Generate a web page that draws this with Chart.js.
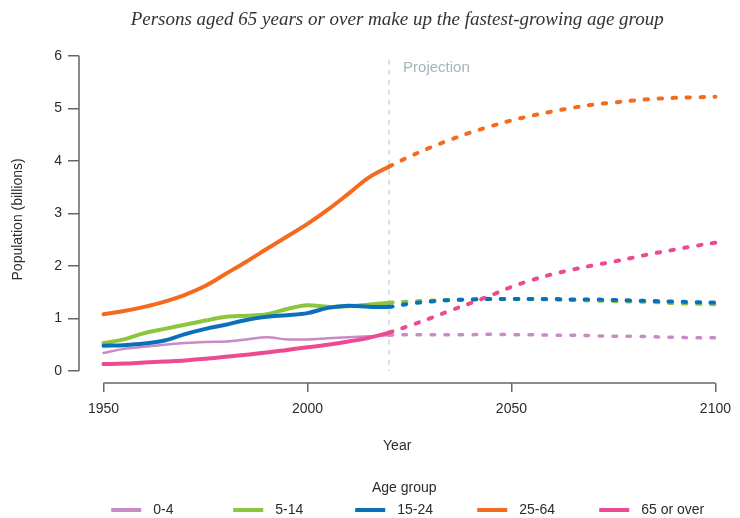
<!DOCTYPE html>
<html>
<head>
<meta charset="utf-8">
<script src="https://cdn.jsdelivr.net/npm/chart.js@4/dist/chart.umd.min.js"></script>
<style>
  html, body { margin: 0; padding: 0; background: #fff; }
  #wrap { width: 740px; height: 518px; }
</style>
</head>
<body>
<div id="wrap"><canvas id="chart"></canvas></div>
<script>
// --- Data (billions), 5-year steps; values from 2020 on are projections ---
const years = [1950, 1955, 1960, 1965, 1970, 1975, 1980, 1985, 1990, 1995, 2000, 2005, 2010, 2015, 2020,
               2025, 2030, 2035, 2040, 2045, 2050, 2055, 2060, 2065, 2070, 2075, 2080, 2085, 2090, 2095, 2100];

const age0to4   = [0.34, 0.42, 0.46, 0.50, 0.53, 0.55, 0.56, 0.60, 0.64, 0.60, 0.60, 0.62, 0.64, 0.66, 0.68,
                   0.69, 0.69, 0.69, 0.69, 0.70, 0.69, 0.69, 0.68, 0.68, 0.67, 0.66, 0.66, 0.65, 0.64, 0.63, 0.63];
const age5to14  = [0.53, 0.60, 0.72, 0.80, 0.88, 0.96, 1.03, 1.05, 1.08, 1.18, 1.25, 1.22, 1.23, 1.26, 1.30,
                   1.32, 1.34, 1.35, 1.36, 1.37, 1.37, 1.37, 1.36, 1.35, 1.34, 1.33, 1.32, 1.31, 1.29, 1.28, 1.27];
const age15to24 = [0.48, 0.49, 0.52, 0.58, 0.70, 0.80, 0.88, 0.97, 1.03, 1.06, 1.10, 1.20, 1.24, 1.22, 1.22,
                   1.28, 1.32, 1.35, 1.36, 1.37, 1.37, 1.37, 1.37, 1.36, 1.36, 1.35, 1.34, 1.33, 1.32, 1.31, 1.30];
const age25to64 = [1.08, 1.14, 1.22, 1.32, 1.45, 1.62, 1.85, 2.08, 2.32, 2.56, 2.80, 3.07, 3.37, 3.68, 3.89,
                   4.08, 4.25, 4.40, 4.54, 4.66, 4.77, 4.86, 4.94, 5.01, 5.07, 5.11, 5.15, 5.18, 5.20, 5.21, 5.22];
const age65plus = [0.13, 0.14, 0.16, 0.18, 0.20, 0.23, 0.27, 0.31, 0.35, 0.40, 0.45, 0.50, 0.56, 0.63, 0.73,
                   0.86, 1.00, 1.15, 1.29, 1.44, 1.60, 1.73, 1.84, 1.93, 2.01, 2.08, 2.16, 2.24, 2.31, 2.38, 2.44];

const groupLabels = ["0-4", "5-14", "15-24", "25-64", "65 or over"];
const groupValues = [age0to4, age5to14, age15to24, age25to64, age65plus];

const xTicks = [1950, 2000, 2050, 2100];
const yTicks = [0, 1, 2, 3, 4, 5, 6];
const projectionStart = 2020;

const chartTitle = "Persons aged 65 years or over make up the fastest-growing age group";
const legendTitle = "Age group";

// --- Styles ---
const groupColors = ["#c98bc6", "#8cc63f", "#0b70b9", "#f26b1f", "#ec4a93"];
const groupWidths = [2.5, 4, 4, 4, 4];
const axisColor = "#666";
const textColor = "#2b2b2b";
const sans = '"Liberation Sans", Arial, sans-serif';

// R-style detached axes + projection marker
const rAxes = {
    id: "rAxes",
    beforeDatasetsDraw(chart) {
        const { ctx, chartArea, scales: { x, y } } = chart;
        ctx.save();
        ctx.strokeStyle = axisColor;
        ctx.lineWidth = 1.5;
        ctx.beginPath();
        ctx.moveTo(chartArea.left, y.getPixelForValue(yTicks[0]));
        ctx.lineTo(chartArea.left, y.getPixelForValue(yTicks[yTicks.length - 1]));
        ctx.moveTo(x.getPixelForValue(xTicks[0]), chartArea.bottom);
        ctx.lineTo(x.getPixelForValue(xTicks[xTicks.length - 1]), chartArea.bottom);
        ctx.stroke();

        // vertical projection line
        const px = x.getPixelForValue(projectionStart);
        ctx.strokeStyle = "#a6c6cb";
        ctx.lineWidth = 1;
        ctx.setLineDash([5, 5]);
        ctx.beginPath();
        ctx.moveTo(px, chartArea.top + 4);
        ctx.lineTo(px, y.getPixelForValue(0));
        ctx.stroke();
        ctx.setLineDash([]);

        ctx.fillStyle = "#a3b6bb";
        ctx.font = "15px " + sans;
        ctx.textAlign = "left";
        ctx.textBaseline = "middle";
        ctx.fillText("Projection", px + 14, chartArea.top + 12);
        ctx.restore();
    }
};

// Legend laid out like the original: title on top, evenly spaced entries
const bottomLegend = {
    id: "bottomLegend",
    afterDraw(chart) {
        const { ctx, chartArea } = chart;
        const cx = (chartArea.left + chartArea.right) / 2 + 9;
        const step = 122;
        const startX = cx - 295;
        ctx.save();
        ctx.font = "14px " + sans;
        ctx.fillStyle = textColor;
        ctx.textBaseline = "middle";
        ctx.textAlign = "center";
        ctx.fillText(legendTitle, cx - 2, chart.height - 30);

        ctx.textAlign = "left";
        chart.data.datasets.forEach((ds, i) => {
            const lx = startX + i * step;
            const ly = chart.height - 8;
            ctx.strokeStyle = ds.borderColor;
            ctx.lineWidth = 4;
            ctx.beginPath();
            ctx.moveTo(lx, ly);
            ctx.lineTo(lx + 30, ly);
            ctx.stroke();
            ctx.fillStyle = textColor;
            ctx.fillText(ds.label, lx + 42, ly);
        });
        ctx.restore();
    }
};

const datasets = groupLabels.map((label, i) => ({
    label: label,
    data: years.map((yr, j) => ({ x: yr, y: groupValues[i][j] })),
    borderColor: groupColors[i],
    backgroundColor: groupColors[i],
    borderWidth: groupWidths[i],
    borderCapStyle: "round",
    pointRadius: 0,
    tension: 0.35,
    clip: false,
    order: groupLabels.length - i,
    segment: {
        borderDash: c => c.p0.parsed.x >= projectionStart ? [3.5, 10.5] : undefined,
        borderWidth: c => c.p0.parsed.x >= projectionStart ? Math.max(groupWidths[i], 3.5) : groupWidths[i]
    }
}));

new Chart(document.getElementById("chart"), {
    type: "line",
    data: { datasets },
    options: {
        responsive: true,
        maintainAspectRatio: false,
        animation: false,
        layout: { padding: { left: 0, right: 20, top: 0, bottom: 60 } },
        plugins: {
            legend: { display: false },
            tooltip: { enabled: false },
            title: {
                display: true,
                text: chartTitle,
                fullSize: false,
                color: "#333",
                font: { family: '"Liberation Serif", serif', style: "italic", size: 19, weight: "normal" },
                padding: { top: 9, bottom: 24 }
            }
        },
        scales: {
            x: {
                type: "linear",
                min: 1944,
                max: 2100,
                afterBuildTicks: s => { s.ticks = xTicks.map(v => ({ value: v })); },
                afterFit: s => { s.height = 75; },
                grid: { drawOnChartArea: false, drawTicks: true, tickLength: 9, color: axisColor, lineWidth: 1.5 },
                border: { display: false },
                ticks: { color: textColor, font: { family: sans, size: 14 }, padding: 9, maxRotation: 0, callback: v => String(v) },
                title: { display: true, text: "Year", color: textColor, font: { family: sans, size: 14 }, padding: { top: 0, bottom: 3 } }
            },
            y: {
                min: -0.23,
                max: 6,
                afterBuildTicks: s => { s.ticks = yTicks.map(v => ({ value: v })); },
                afterFit: s => { s.width = 79; },
                grid: { drawOnChartArea: false, drawTicks: true, tickLength: 11, color: axisColor, lineWidth: 1.5 },
                border: { display: false },
                ticks: { color: textColor, font: { family: sans, size: 14 }, padding: 6, callback: v => String(v) },
                title: { display: true, text: "Population (billions)", color: textColor, font: { family: sans, size: 14 }, padding: { top: 10, bottom: 4 } }
            }
        }
    },
    plugins: [rAxes, bottomLegend]
});
</script>
</body>
</html>
